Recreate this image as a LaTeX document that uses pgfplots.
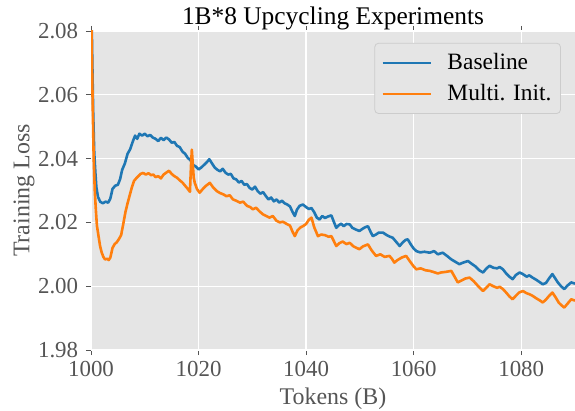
\documentclass[border=0pt]{standalone}
\usepackage{fontspec}
\setmainfont{Liberation Serif}
\usepackage{pgfplots}
\pgfplotsset{compat=1.18}
\definecolor{bgc}{HTML}{E5E5E5}
\definecolor{tc}{HTML}{555555}
\definecolor{mblue}{HTML}{1F77B4}
\definecolor{morange}{HTML}{FF7F0E}
\begin{document}
\fontsize{23}{27}\selectfont
\begin{tikzpicture}
\begin{axis}[
  scale only axis, width=484bp, height=319bp,
  xmin=1000, xmax=1090, ymin=1.98, ymax=2.08,
  xtick={1000,1020,1040,1060,1080},
  ytick={1.98,2.00,2.02,2.04,2.06,2.08},
  /pgf/number format/assume math mode=true,
  yticklabel style={/pgf/number format/fixed, /pgf/number format/fixed zerofill, /pgf/number format/precision=2},
  xticklabel style={yshift=2bp, /pgf/number format/1000 sep={}},
  axis background/.style={fill=bgc},
  axis line style={white, line width=1bp},
  grid=major, major grid style={white, line width=1.3bp},
  tick align=outside, major tick length=5bp,
  tick style={tc, line width=0.9bp},
  ticklabel style={font=\fontsize{23}{27}\selectfont, text=tc},
  xlabel={Tokens (B)}, ylabel={Training Loss},
  label style={font=\fontsize{24}{28}\selectfont, text=tc},
  xlabel style={yshift=4bp},
  ylabel style={yshift=-12bp},
  title={1B*8 Upcycling Experiments},
  title style={font=\fontsize{25.5}{29}\selectfont, text=black, inner sep=0pt, yshift=-5bp},
  legend cell align=left,
  legend style={at={(rel axis cs:0.971,0.963)}, anchor=north east,
    fill=bgc, draw=black!20, line width=0.8bp, rounded corners=4bp, text=black,
    font=\fontsize{23.5}{28}\selectfont, inner xsep=7bp, inner ysep=8bp,
    row sep=7bp, column sep=14bp, nodes={inner sep=2bp}},
  legend image code/.code={\draw[#1, line width=1.8bp, rounded corners=0pt] (0bp,0bp) -- (48bp,0bp);},
  every axis plot/.append style={line width=2.6bp, line join=round},
]
\addplot[mblue] coordinates {
(1000.0,2.095) (1000.2,2.075) (1000.4,2.055) (1000.6,2.042) (1000.8,2.036)
(1001.0,2.031) (1001.3,2.028) (1001.7,2.0265) (1002.2,2.0260) (1002.7,2.0265)
(1003.2,2.0262) (1003.6,2.0275) (1004.0,2.0305) (1004.5,2.0315) (1005.0,2.0318)
(1005.4,2.0335) (1005.8,2.0365) (1006.3,2.0385) (1006.8,2.0415) (1007.3,2.043)
(1007.8,2.0455) (1008.2,2.0472) (1008.6,2.0462) (1009.0,2.0478) (1009.5,2.0472)
(1010.0,2.0478) (1010.5,2.0470) (1011.0,2.0474) (1011.5,2.0466) (1012.0,2.0462)
(1012.5,2.0455) (1013.0,2.0465) (1013.5,2.0458) (1014.0,2.0466) (1014.5,2.0460)
(1015.0,2.0450) (1015.5,2.0452) (1016.0,2.0440) (1016.5,2.0436) (1017.0,2.0422)
(1017.5,2.0415) (1018.0,2.0402) (1018.5,2.0395) (1019.0,2.0380) (1019.5,2.0375)
(1020.0,2.0366) (1020.5,2.0372) (1021.0,2.0380) (1021.5,2.0388) (1022.0,2.0398)
(1022.5,2.0385) (1023.0,2.0372) (1023.5,2.0365) (1024.0,2.0360) (1024.5,2.0368)
(1025.0,2.0356) (1025.5,2.0350) (1026.0,2.0352) (1026.5,2.0338) (1027.0,2.0335)
(1027.5,2.0325) (1028.0,2.0330) (1028.5,2.0318) (1029.0,2.0320) (1029.5,2.0308)
(1030.0,2.0303) (1030.5,2.0312) (1031.0,2.0298) (1031.5,2.0290) (1032.0,2.0295)
(1032.5,2.0283) (1033.0,2.0272) (1033.5,2.0278) (1034.0,2.0266) (1034.5,2.0272)
(1035.0,2.0262) (1035.5,2.0268) (1036.0,2.0260) (1036.5,2.0256) (1037.0,2.0250)
(1037.5,2.0232) (1037.9,2.0220) (1038.3,2.0240) (1038.8,2.0252) (1039.4,2.0256)
(1040.0,2.0248) (1040.5,2.0242) (1041.0,2.0245) (1041.5,2.0232) (1042.0,2.0215)
(1042.5,2.0209) (1043.0,2.0220) (1043.5,2.0214) (1044.0,2.0218) (1044.7,2.0222)
(1045.2,2.0200) (1045.6,2.0183) (1046.0,2.0190) (1046.5,2.0196) (1047.0,2.0188)
(1047.5,2.0195) (1048.1,2.0194) (1048.6,2.0183) (1049.2,2.0178) (1049.9,2.0173)
(1050.5,2.0180) (1051.0,2.0185) (1051.5,2.0188) (1052.0,2.0170) (1052.4,2.0157)
(1053.0,2.0162) (1053.5,2.0168) (1054.3,2.0168) (1055.0,2.0160) (1055.6,2.0155)
(1056.1,2.0152) (1056.8,2.0138) (1057.4,2.0126) (1058.0,2.0138) (1058.5,2.0145)
(1058.9,2.0147) (1059.5,2.0130) (1060.0,2.0118) (1060.5,2.0110) (1061.2,2.0106)
(1062.0,2.0108) (1063.0,2.0105) (1063.8,2.0110) (1064.5,2.0100) (1065.4,2.0105)
(1066.2,2.0095) (1067.0,2.0084) (1067.8,2.0076) (1068.5,2.0069) (1069.2,2.0074)
(1070.1,2.0079) (1070.8,2.0070) (1071.5,2.0062) (1072.2,2.0050) (1072.9,2.0043)
(1073.5,2.0055) (1074.1,2.0064) (1074.8,2.0058) (1075.5,2.0056) (1076.0,2.0060)
(1076.6,2.0053) (1077.2,2.0040) (1077.8,2.0030) (1078.4,2.0022) (1079.0,2.0035)
(1079.7,2.0043) (1080.3,2.0038) (1081.0,2.0030) (1081.5,2.0034) (1082.1,2.0027)
(1082.8,2.0020) (1083.5,2.0012) (1084.0,2.0006) (1084.6,2.0010) (1085.2,2.0025)
(1085.8,2.0038) (1086.3,2.0025) (1086.8,2.0012) (1087.4,2.0000) (1088.0,1.9991)
(1088.6,2.0002) (1089.3,2.0012) (1090.0,2.0008)
};
\addlegendentry{Baseline}
\addplot[morange] coordinates {
(1000.0,2.092) (1000.15,2.075) (1000.3,2.058) (1000.5,2.040) (1000.7,2.030)
(1000.9,2.024) (1001.1,2.019) (1001.4,2.0157) (1001.7,2.0125) (1002.0,2.0105)
(1002.3,2.0092) (1002.6,2.0084) (1003.0,2.0086) (1003.3,2.0082) (1003.6,2.0090)
(1004.0,2.0120) (1004.4,2.0132) (1004.8,2.0138) (1005.2,2.0148) (1005.6,2.0160)
(1006.0,2.0195) (1006.4,2.0232) (1006.8,2.0260) (1007.2,2.0285) (1007.6,2.0310)
(1008.0,2.0330) (1008.4,2.0338) (1008.8,2.0345) (1009.2,2.0352) (1009.7,2.0355)
(1010.2,2.0350) (1010.7,2.0354) (1011.2,2.0348) (1011.6,2.0350) (1012.0,2.0342)
(1012.5,2.0345) (1013.0,2.0338) (1013.5,2.0350) (1014.0,2.0356) (1014.5,2.0362)
(1015.0,2.0352) (1015.5,2.0345) (1016.0,2.0340) (1016.5,2.0332) (1017.0,2.0325)
(1017.5,2.0315) (1018.0,2.0305) (1018.4,2.0296) (1018.6,2.0380) (1018.75,2.0428)
(1018.9,2.0390) (1019.1,2.0340) (1019.3,2.0324) (1019.7,2.0305) (1020.2,2.0293)
(1020.8,2.0305) (1021.4,2.0315) (1022.1,2.0324) (1022.7,2.0310) (1023.4,2.0298)
(1024.0,2.0292) (1024.6,2.0288) (1025.2,2.0282) (1025.8,2.0285) (1026.4,2.0272)
(1027.0,2.0268) (1027.7,2.0262) (1028.3,2.0265) (1029.0,2.0252) (1029.6,2.0248)
(1030.1,2.0241) (1030.7,2.0246) (1031.3,2.0235) (1032.0,2.0225) (1032.6,2.0220)
(1033.2,2.0215) (1033.8,2.0220) (1034.5,2.0205) (1035.1,2.0200) (1035.7,2.0202)
(1036.3,2.0196) (1037.0,2.0190) (1037.5,2.0170) (1037.9,2.0157) (1038.4,2.0175)
(1039.0,2.0185) (1039.4,2.0188) (1040.0,2.0195) (1040.5,2.0208) (1041.0,2.0215)
(1041.5,2.0185) (1042.2,2.0157) (1042.8,2.0162) (1043.5,2.0160) (1044.2,2.0155)
(1044.7,2.0157) (1045.2,2.0140) (1045.6,2.0126) (1046.2,2.0135) (1046.8,2.0140)
(1047.5,2.0132) (1048.1,2.0136) (1048.8,2.0125) (1049.4,2.0120) (1049.9,2.0116)
(1050.6,2.0125) (1051.5,2.0131) (1052.2,2.0112) (1053.0,2.0095) (1053.8,2.0100)
(1054.6,2.0092) (1055.5,2.0095) (1056.0,2.0085) (1056.4,2.0074) (1057.0,2.0082)
(1057.8,2.0090) (1058.6,2.0095) (1059.3,2.0078) (1060.0,2.0062) (1060.5,2.0053)
(1061.3,2.0056) (1062.2,2.0050) (1063.0,2.0048) (1063.8,2.0044) (1064.5,2.0040)
(1065.1,2.0043) (1066.0,2.0045) (1067.0,2.0048) (1067.6,2.0030) (1068.2,2.0012)
(1068.9,2.0018) (1069.6,2.0024) (1070.4,2.0027) (1071.2,2.0015) (1072.0,2.0000)
(1072.9,1.9985) (1073.5,1.9995) (1074.1,2.0006) (1074.8,2.0000) (1075.5,1.9995)
(1076.0,1.9998) (1076.6,1.9991) (1077.2,1.9980) (1077.8,1.9968) (1078.4,1.9959)
(1079.0,1.9970) (1079.6,1.9980) (1080.3,1.9985) (1081.0,1.9978) (1081.5,1.9975)
(1082.1,1.9970) (1082.8,1.9962) (1083.5,1.9955) (1084.0,1.9949) (1084.6,1.9958)
(1085.2,1.9970) (1085.8,1.9980) (1086.4,1.9965) (1087.0,1.9948) (1087.5,1.9940)
(1088.0,1.9933) (1088.6,1.9945) (1089.3,1.9959) (1090.0,1.9955)
};
\addlegendentry{Multi. Init.}
\end{axis}
\pgfresetboundingbox
\path ([shift={(-91bp,-60bp)}]current axis.south west) rectangle ([shift={(0bp,31bp)}]current axis.north east);
\end{tikzpicture}
\end{document}
